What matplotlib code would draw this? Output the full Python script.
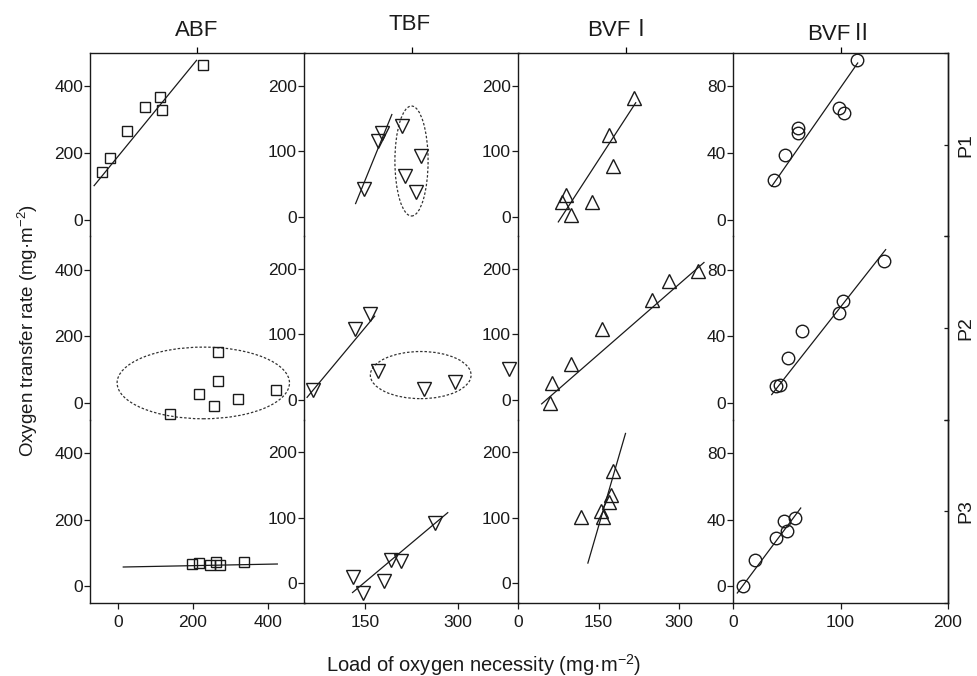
import matplotlib
matplotlib.use("Agg")
import matplotlib.pyplot as plt
from matplotlib.patches import Ellipse

plt.rcParams['font.family'] = ['Liberation Sans', 'Noto Sans CJK SC', 'DejaVu Sans']
plt.rcParams['mathtext.fontset'] = 'custom'
plt.rcParams['mathtext.rm'] = 'Liberation Sans'
plt.rcParams['mathtext.it'] = 'Liberation Sans:italic'

# column titles and row names
titles = ['ABF', 'TBF', 'BVF\u2160', 'BVF\u2161']
rows = ['P1', 'P2', 'P3']

# ABF
abf_p1_x = [-44, -21, 23, 72, 113, 118, 226]
abf_p1_y = [142, 185, 265, 337, 368, 328, 464]
abf_p1_fit_x = [-64, 210]
abf_p1_fit_y = [102, 478]
abf_p2_x = [266, 268, 217, 256, 320, 422, 140]
abf_p2_y = [152, 65, 27, -10, 11, 38, -32]
abf_p2_ellipse = [228, 60, 461, 215]
abf_p3_x = [198, 216, 247, 263, 274, 336]
abf_p3_y = [66, 70, 64, 74, 63, 72]
abf_p3_fit_x = [14, 426]
abf_p3_fit_y = [58, 67]

# TBF
tbf_p1_x = [147, 170, 177, 210, 241, 214, 232]
tbf_p1_y = [43, 115, 128, 138, 93, 62, 37]
tbf_p1_fit_x = [134, 193]
tbf_p1_fit_y = [20, 156]
tbf_p1_ellipse = [225, 85, 54, 168]
tbf_p2_x = [65, 133, 157, 170, 245, 296, 384]
tbf_p2_y = [15, 109, 132, 45, 17, 28, 47]
tbf_p2_fit_x = [55, 165]
tbf_p2_fit_y = [4, 128]
tbf_p2_ellipse = [240, 38, 164, 72]
tbf_p3_x = [129, 146, 181, 192, 208, 264]
tbf_p3_y = [10, -15, 3, 35, 34, 92]
tbf_p3_fit_x = [129, 284]
tbf_p3_fit_y = [-14, 108]

# BVF I
bvf1_p1_x = [81, 90, 98, 137, 170, 176, 216]
bvf1_p1_y = [23, 33, 3, 22, 124, 77, 181]
bvf1_p1_fit_x = [75, 219]
bvf1_p1_fit_y = [-8, 174]
bvf1_p2_x = [59, 63, 98, 157, 249, 281, 335]
bvf1_p2_y = [-4, 26, 55, 108, 153, 181, 197]
bvf1_p2_fit_x = [44, 346]
bvf1_p2_fit_y = [-6, 210]
bvf1_p3_x = [118, 158, 155, 170, 173, 177]
bvf1_p3_y = [101, 102, 111, 125, 135, 171]
bvf1_p3_fit_x = [130, 200]
bvf1_p3_fit_y = [31, 229]

# BVF II
bvf2_p1_x = [38, 48, 60, 60, 99, 103, 115]
bvf2_p1_y = [24, 39, 55, 52, 67, 64, 96]
bvf2_p1_fit_x = [36, 116]
bvf2_p1_fit_y = [20, 94]
bvf2_p2_x = [40, 44, 51, 64, 99, 102, 140]
bvf2_p2_y = [10, 11, 27, 43, 54, 61, 85]
bvf2_p2_fit_x = [36, 142]
bvf2_p2_fit_y = [5, 92]
bvf2_p3_x = [9, 20, 40, 47, 50, 58]
bvf2_p3_y = [0, 16, 29, 39, 33, 41]
bvf2_p3_fit_x = [4, 63]
bvf2_p3_fit_y = [-4, 47]

# axis settings per column
xlims = [(-75, 500), (50, 400), (0, 400), (0, 200)]
ylims = [(-50, 500), (-30, 250), (-30, 250), (-10, 100)]
xticks = [[0, 200, 400], [150, 300], [0, 150, 300], [0, 100, 200]]
yticks = [[0, 200, 400], [0, 100, 200], [0, 100, 200], [0, 40, 80]]
markers = [('s', 7.9), ('v', 10), ('^', 10), ('o', 9)]

panels = [
    [(abf_p1_x, abf_p1_y, abf_p1_fit_x, abf_p1_fit_y, None),
     (abf_p2_x, abf_p2_y, None, None, abf_p2_ellipse),
     (abf_p3_x, abf_p3_y, abf_p3_fit_x, abf_p3_fit_y, None)],
    [(tbf_p1_x, tbf_p1_y, tbf_p1_fit_x, tbf_p1_fit_y, tbf_p1_ellipse),
     (tbf_p2_x, tbf_p2_y, tbf_p2_fit_x, tbf_p2_fit_y, tbf_p2_ellipse),
     (tbf_p3_x, tbf_p3_y, tbf_p3_fit_x, tbf_p3_fit_y, None)],
    [(bvf1_p1_x, bvf1_p1_y, bvf1_p1_fit_x, bvf1_p1_fit_y, None),
     (bvf1_p2_x, bvf1_p2_y, bvf1_p2_fit_x, bvf1_p2_fit_y, None),
     (bvf1_p3_x, bvf1_p3_y, bvf1_p3_fit_x, bvf1_p3_fit_y, None)],
    [(bvf2_p1_x, bvf2_p1_y, bvf2_p1_fit_x, bvf2_p1_fit_y, None),
     (bvf2_p2_x, bvf2_p2_y, bvf2_p2_fit_x, bvf2_p2_fit_y, None),
     (bvf2_p3_x, bvf2_p3_y, bvf2_p3_fit_x, bvf2_p3_fit_y, None)],
]

W, H = 978, 676
fig = plt.figure(figsize=(W / 100, H / 100), dpi=100)

col_left = [90, 304, 518, 733]
col_w = 215
row_top = [53, 236.3, 419.7]
row_h = 183.3
title_y = [30, 25, 30, 35]
title_x = [197, 410, 620, 840]
ink = '#1a1a1a'

for c in range(4):
    for r in range(3):
        x0 = col_left[c] / W
        y0 = 1 - (row_top[r] + row_h) / H
        ax = fig.add_axes([x0, y0, col_w / W, row_h / H])
        ax.set_facecolor('none')
        px, py, fx, fy, ell = panels[c][r]
        m, ms = markers[c]
        ax.plot(px, py, linestyle='none', marker=m, markersize=ms,
                markerfacecolor='none', markeredgecolor=ink, markeredgewidth=1.0,
                clip_on=False, zorder=3)
        if fx is not None:
            ax.plot(fx, fy, color=ink, linewidth=0.9, zorder=2)
        if ell is not None:
            ax.add_patch(Ellipse((ell[0], ell[1]), ell[2], ell[3], fill=False,
                                 edgecolor='#333333', linewidth=0.9,
                                 linestyle=(0, (2, 1.5))))
        ax.set_xlim(xlims[c])
        ax.set_ylim(ylims[c])
        ax.set_yticks(yticks[c])
        ax.tick_params(axis='y', direction='out', length=4, width=0.9,
                       labelsize=12.5, pad=1, colors=ink)
        for s in ax.spines.values():
            s.set_linewidth(1.0)
            s.set_color(ink)
        if c < 3:
            ax.spines['right'].set_visible(False)
        if r == 0:
            ax.spines['bottom'].set_visible(False)
            mid = (xlims[c][0] + xlims[c][1]) / 2
            ax.set_xticks([mid])
            ax.tick_params(axis='x', bottom=False, top=True, labelbottom=False,
                           labeltop=False, direction='out', length=4, width=0.9)
        elif r == 1:
            ax.spines['top'].set_visible(False)
            ax.spines['bottom'].set_visible(False)
            ax.set_xticks([])
        else:
            ax.spines['top'].set_visible(False)
            ax.set_xticks(xticks[c])
            ax.tick_params(axis='x', direction='out', length=4.5, width=0.9,
                           labelsize=12.5, pad=4, colors=ink)
        if c == 3:
            tw = ax.twinx()
            tw.set_ylim(0, 1)
            tw.set_yticks([0, 0.5, 1])
            tw.set_yticklabels(['', rows[r], ''])
            tw.tick_params(axis='y', direction='in', length=3, width=0.9,
                           labelsize=14, labelrotation=90, pad=7, colors=ink)
            for k in ['top', 'bottom', 'left']:
                tw.spines[k].set_visible(False)
            tw.spines['right'].set_linewidth(1.0)
            tw.spines['right'].set_color(ink)
            for lab in tw.get_yticklabels():
                lab.set_verticalalignment('center')

for c in range(4):
    fig.text(title_x[c] / W, 1 - title_y[c] / H, titles[c], ha='center', va='center',
             fontsize=16, color=ink)

fig.text(484 / W, 1 - 665 / H, 'Load of oxygen necessity (mg\u00b7m$^{-2}$)',
         ha='center', va='center', fontsize=14.5, color=ink)
fig.text(28 / W, 1 - 330 / H, 'Oxygen transfer rate (mg\u00b7m$^{-2}$)',
         ha='center', va='center', rotation=90, fontsize=13.5, color=ink)

fig.savefig('out.png', dpi=100)
